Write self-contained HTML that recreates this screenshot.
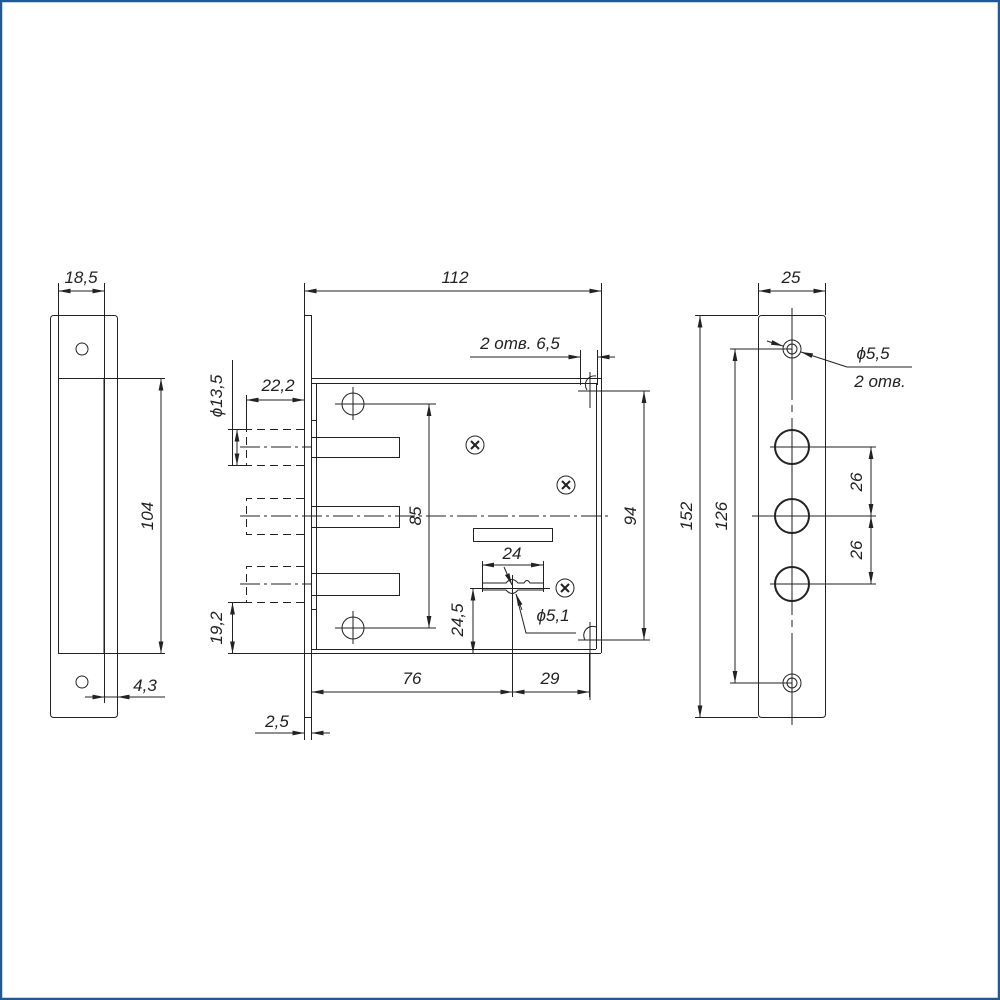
<!DOCTYPE html>
<html><head><meta charset="utf-8"><style>
html,body{margin:0;padding:0;background:#fff}
svg{display:block}
text{font-family:"Liberation Sans",sans-serif;font-style:italic;font-size:17px;fill:#222}
</style></head><body>
<svg width="1000" height="1000" viewBox="0 0 1000 1000" xmlns="http://www.w3.org/2000/svg">
<defs>
<marker id="a" viewBox="0 0 10 4" refX="10" refY="2" markerWidth="12" markerHeight="5" markerUnits="userSpaceOnUse" orient="auto-start-reverse"><path d="M0,0L10,2L0,4z" fill="#222"/></marker>
</defs>
<rect x="1" y="1" width="998" height="998" fill="none" stroke="#1f5a96" stroke-width="2.5"/>
<g fill="none" stroke="#222" stroke-width="1">
<!-- LEFT VIEW -->
<rect x="50.5" y="315.5" width="67" height="402" rx="3"/>
<line x1="58.5" y1="283" x2="58.5" y2="378"/>
<rect x="58.5" y="378.5" width="45.5" height="275"/>
<line x1="104.5" y1="283" x2="104.5" y2="703"/>
<circle cx="82" cy="349" r="6"/><circle cx="82" cy="682" r="6"/>
<line x1="58.5" y1="291" x2="104.5" y2="291" marker-start="url(#a)" marker-end="url(#a)"/>
<line x1="104" y1="378.5" x2="165" y2="378.5"/><line x1="104" y1="653.5" x2="165" y2="653.5"/>
<line x1="161" y1="378.5" x2="161" y2="653.5" marker-start="url(#a)" marker-end="url(#a)"/>
<line x1="85" y1="697" x2="104.5" y2="697" marker-end="url(#a)"/>
<line x1="165" y1="697" x2="117.5" y2="697" marker-end="url(#a)"/>
<line x1="104.5" y1="697" x2="117.5" y2="697"/>

<!-- MIDDLE VIEW -->
<line x1="304.5" y1="283" x2="304.5" y2="740"/>
<line x1="311.5" y1="315" x2="311.5" y2="740"/>
<line x1="304.5" y1="315.5" x2="311.5" y2="315.5"/>
<line x1="304.5" y1="717.5" x2="311.5" y2="717.5"/>
<line x1="601.5" y1="283" x2="601.5" y2="653"/>
<line x1="304.5" y1="291" x2="601.5" y2="291" marker-start="url(#a)" marker-end="url(#a)"/>
<line x1="311" y1="378.5" x2="601" y2="378.5"/>
<line x1="316" y1="383.5" x2="596" y2="383.5"/>
<line x1="596.5" y1="383" x2="596.5" y2="649"/>
<line x1="311" y1="653.5" x2="601" y2="653.5"/>
<line x1="316" y1="649.5" x2="596" y2="649.5"/>
<line x1="316.5" y1="383" x2="316.5" y2="649"/>
<rect x="311.5" y="383.5" width="5" height="37"/>
<rect x="311.5" y="609.5" width="5" height="40"/>
<!-- holes -->
<circle cx="353" cy="404" r="11"/><circle cx="353" cy="628" r="11"/>
<line x1="353" y1="387" x2="353" y2="420"/><line x1="335" y1="404" x2="436" y2="404"/>
<line x1="353" y1="611" x2="353" y2="644"/><line x1="335" y1="628" x2="436" y2="628"/>
<line x1="429" y1="404" x2="429" y2="628" marker-start="url(#a)" marker-end="url(#a)"/>
<!-- bolts -->
<rect x="311.5" y="437.5" width="88" height="20"/>
<rect x="311.5" y="506.5" width="88" height="21"/>
<rect x="311.5" y="573.5" width="88" height="22"/>
<g stroke-dasharray="8,5">
<path d="M304,429.5H246.5V465.5H304"/>
<path d="M304,498.5H246.5V534.5H304"/>
<path d="M304,566.5H246.5V602.5H304"/>
</g>
<g stroke-dasharray="20,4,3,4">
<line x1="240" y1="447" x2="311" y2="447"/>
<line x1="240" y1="516" x2="608" y2="516"/>
<line x1="240" y1="584" x2="311" y2="584"/>
</g>
<!-- screws -->
<g>
<circle cx="475" cy="445" r="9"/><circle cx="566" cy="485" r="9"/><circle cx="565" cy="588" r="9"/>
</g>
<g stroke-width="2">
<path d="M471,441l8,8M479,441l-8,8M562,481l8,8M570,481l-8,8M561,584l8,8M569,584l-8,8"/>
</g>
<rect x="473.5" y="528.5" width="79" height="13"/>
<!-- keyhole -->
<line x1="482.5" y1="561" x2="482.5" y2="592"/><line x1="543.5" y1="561" x2="543.5" y2="592"/>
<line x1="482" y1="565" x2="543" y2="565" marker-start="url(#a)" marker-end="url(#a)"/>
<path d="M482,583H506Q512,576 518,583H524Q527,578 530,583H543"/>
<path d="M482,590H506Q512,597 518,590H543"/>
<line x1="470" y1="588.5" x2="550" y2="588.5"/>
<line x1="512.5" y1="575" x2="512.5" y2="697"/>
<line x1="504" y1="567" x2="512" y2="585" marker-end="url(#a)"/>
<path d="M516,594L526,633H576" />
<line x1="522" y1="610" x2="516" y2="594" marker-end="url(#a)"/>
<line x1="473" y1="588.5" x2="473" y2="653.5" marker-start="url(#a)" marker-end="url(#a)"/>
<!-- 94 -->
<line x1="585" y1="391" x2="650" y2="391"/><line x1="585" y1="640" x2="650" y2="640"/>
<line x1="644" y1="391" x2="644" y2="640" marker-start="url(#a)" marker-end="url(#a)"/>
<!-- corner holes -->
<path d="M596,376A9,9 0 0 0 587,390 M590,372V408 M578,391H596"/>
<path d="M596,627A9,9 0 0 0 585,640 M590,622V700 M578,640H596"/>
<!-- 2 отв 6,5 -->
<line x1="580.5" y1="350" x2="580.5" y2="385"/><line x1="597.5" y1="350" x2="597.5" y2="385"/>
<line x1="470" y1="357" x2="580.5" y2="357" marker-end="url(#a)"/>
<line x1="615" y1="357" x2="597.5" y2="357" marker-end="url(#a)"/>
<!-- 76 / 29 -->
<line x1="311.5" y1="692" x2="512.5" y2="692" marker-start="url(#a)" marker-end="url(#a)"/>
<line x1="512.5" y1="692" x2="589.5" y2="692" marker-start="url(#a)" marker-end="url(#a)"/>
<line x1="589.5" y1="653" x2="589.5" y2="697"/>
<!-- 2,5 -->
<line x1="255" y1="733" x2="304.5" y2="733" marker-end="url(#a)"/>
<line x1="330" y1="733" x2="311.5" y2="733" marker-end="url(#a)"/>
<!-- ϕ13,5 / 22,2 / 19,2 -->
<line x1="232.5" y1="360" x2="232.5" y2="465"/>
<line x1="228" y1="429.5" x2="246" y2="429.5"/><line x1="228" y1="465.5" x2="246" y2="465.5"/>
<line x1="237" y1="429.5" x2="237" y2="465.5" marker-start="url(#a)" marker-end="url(#a)"/>
<line x1="246.5" y1="395" x2="246.5" y2="430"/>
<line x1="246.5" y1="400" x2="304.5" y2="400" marker-start="url(#a)" marker-end="url(#a)"/>
<line x1="228" y1="602.5" x2="246" y2="602.5"/>
<line x1="228" y1="653.5" x2="311" y2="653.5"/>
<line x1="232.5" y1="602.5" x2="232.5" y2="653.5" marker-start="url(#a)" marker-end="url(#a)"/>

<!-- RIGHT VIEW -->
<rect x="758.5" y="315.5" width="67" height="402" rx="3"/>
<line x1="758.5" y1="283" x2="758.5" y2="315"/><line x1="825.5" y1="283" x2="825.5" y2="315"/>
<line x1="758.5" y1="291" x2="825.5" y2="291" marker-start="url(#a)" marker-end="url(#a)"/>
<path d="M792,308V400M792,405V412M792,418V615M792,620V627M792,633V725"/>
<circle cx="792" cy="349" r="9"/><circle cx="792" cy="349" r="5"/>
<circle cx="792" cy="683" r="9"/><circle cx="792" cy="683" r="5"/>
<g stroke-width="2"><circle cx="792" cy="447" r="17"/><circle cx="792" cy="516" r="17"/><circle cx="792" cy="584" r="17"/></g>
<line x1="770" y1="447" x2="876" y2="447"/><line x1="752" y1="516" x2="876" y2="516"/><line x1="770" y1="584" x2="876" y2="584"/>
<line x1="871" y1="447" x2="871" y2="516" marker-start="url(#a)" marker-end="url(#a)"/>
<line x1="871" y1="516" x2="871" y2="584" marker-start="url(#a)" marker-end="url(#a)"/>
<line x1="695" y1="315.5" x2="758" y2="315.5"/><line x1="695" y1="717.5" x2="758" y2="717.5"/>
<line x1="700" y1="315.5" x2="700" y2="717.5" marker-start="url(#a)" marker-end="url(#a)"/>
<line x1="730" y1="349" x2="792" y2="349"/><line x1="730" y1="683" x2="792" y2="683"/>
<line x1="735" y1="349" x2="735" y2="683" marker-start="url(#a)" marker-end="url(#a)"/>
<line x1="767" y1="341" x2="783" y2="346" marker-end="url(#a)"/>
<path d="M847,367H912"/>
<line x1="847" y1="367" x2="801" y2="352" marker-end="url(#a)"/>
</g>
<!-- TEXT -->
<text x="81" y="283" text-anchor="middle">18,5</text>
<text transform="translate(153,516) rotate(-90)" text-anchor="middle">104</text>
<text x="145" y="691" text-anchor="middle">4,3</text>
<text x="455" y="283" text-anchor="middle">112</text>
<text x="520" y="349" text-anchor="middle">2 отв. 6,5</text>
<text x="278" y="391" text-anchor="middle">22,2</text>
<text transform="translate(222,396) rotate(-90)" text-anchor="middle">ϕ13,5</text>
<text transform="translate(421,516) rotate(-90)" text-anchor="middle">85</text>
<text transform="translate(636,516) rotate(-90)" text-anchor="middle">94</text>
<text x="512" y="559" text-anchor="middle">24</text>
<text x="553" y="621" text-anchor="middle">ϕ5,1</text>
<text transform="translate(463,620) rotate(-90)" text-anchor="middle">24,5</text>
<text transform="translate(222,628) rotate(-90)" text-anchor="middle">19,2</text>
<text x="412" y="684" text-anchor="middle">76</text>
<text x="550" y="684" text-anchor="middle">29</text>
<text x="277" y="727" text-anchor="middle">2,5</text>
<text x="791" y="283" text-anchor="middle">25</text>
<text x="873" y="359" text-anchor="middle">ϕ5,5</text>
<text x="880" y="387" text-anchor="middle">2 отв.</text>
<text transform="translate(692,516) rotate(-90)" text-anchor="middle">152</text>
<text transform="translate(727,516) rotate(-90)" text-anchor="middle">126</text>
<text transform="translate(862,482) rotate(-90)" text-anchor="middle">26</text>
<text transform="translate(862,550) rotate(-90)" text-anchor="middle">26</text>
</svg>
</body></html>
